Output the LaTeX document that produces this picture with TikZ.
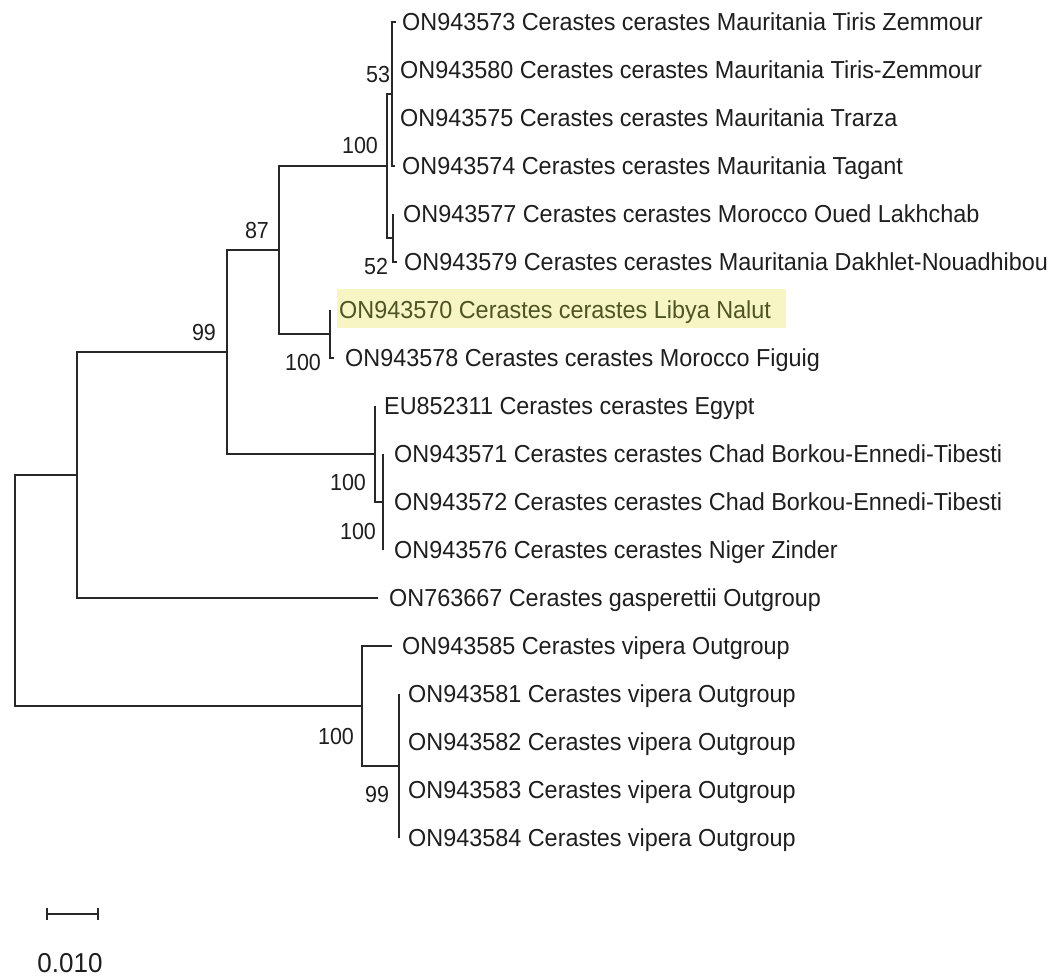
\documentclass[tikz,border=0pt]{standalone}
\usepackage{fontspec}
\setmainfont{Liberation Sans}
\definecolor{branch}{RGB}{40,40,40}
\definecolor{txt}{RGB}{30,30,30}
\definecolor{hl}{RGB}{247,245,196}
\definecolor{hltxt}{RGB}{78,84,36}
\tikzset{
  br/.style={draw=branch, line width=1.3pt},
  leaf/.style={inner sep=0pt, anchor=base west, text=txt, yscale=1.05, font=\fontsize{23.4pt}{28pt}\selectfont},
  boot/.style={inner sep=0pt, anchor=center, text=txt, yscale=1.08, font=\fontsize{21.5pt}{24pt}\selectfont},
}
\begin{document}
\begin{tikzpicture}[x=1pt,y=-1pt]
\useasboundingbox (0,0) rectangle (1052,978);
% highlight
\fill[hl] (337,289) rectangle (786,328);
% internal nodes
\coordinate (root) at (15,590.5);
\coordinate (n77) at (77,475);
\coordinate (n99) at (227,352);
\coordinate (n87) at (279,250);
\coordinate (n100a) at (387,166);
\coordinate (n53) at (392,94);
\coordinate (n52) at (393,238);
\coordinate (nlib) at (330,334);
\coordinate (negy) at (375,454);
\coordinate (nsub) at (383,502);
\coordinate (nvip) at (362,706);
\coordinate (nvsub) at (399,766);
% tips
\coordinate (t1) at (396,22);
\coordinate (t2) at (392,70);
\coordinate (t3) at (392,118);
\coordinate (t4) at (395,166);
\coordinate (t5) at (393,214);
\coordinate (t6) at (397,262);
\coordinate (t7) at (330,310);
\coordinate (t8) at (334,358);
\coordinate (t9) at (375,406);
\coordinate (t10) at (383,454);
\coordinate (t11) at (383,502);
\coordinate (t12) at (383,550);
\coordinate (t13) at (378,598);
\coordinate (t14) at (392,646);
\coordinate (t15) at (399,694);
\coordinate (t16) at (399,742);
\coordinate (t17) at (399,790);
\coordinate (t18) at (399,838);
% branches
\draw[br] (root) |- (n77);
\draw[br] (root) |- (nvip);
\draw[br] (n77) |- (n99);
\draw[br] (n77) |- (t13);
\draw[br] (n99) |- (n87);
\draw[br] (n99) |- (negy);
\draw[br] (n87) |- (n100a);
\draw[br] (n87) |- (nlib);
\draw[br] (n100a) |- (n53);
\draw[br] (n100a) |- (n52);
\draw[br] (n53) |- (t1);
\draw[br] (n53) |- (t2);
\draw[br] (n53) |- (t3);
\draw[br] (n53) |- (t4);
\draw[br] (n52) |- (t5);
\draw[br] (n52) |- (t6);
\draw[br] (nlib) |- (t7);
\draw[br] (nlib) |- (t8);
\draw[br] (negy) |- (t9);
\draw[br] (negy) |- (nsub);
\draw[br] (nsub) |- (t10);
\draw[br] (nsub) |- (t11);
\draw[br] (nsub) |- (t12);
\draw[br] (nvip) |- (t14);
\draw[br] (nvip) |- (nvsub);
\draw[br] (nvsub) |- (t15);
\draw[br] (nvsub) |- (t16);
\draw[br] (nvsub) |- (t17);
\draw[br] (nvsub) |- (t18);
% leaf labels
\node[leaf] (l1) at ([xshift=6]t1 |- 0,30.4) {ON943573 Cerastes cerastes Mauritania Tiris Zemmour};
\node[leaf] (l2) at ([xshift=8]t2 |- 0,78.4) {ON943580 Cerastes cerastes Mauritania Tiris-Zemmour};
\node[leaf] (l3) at ([xshift=8]t3 |- 0,126.4) {ON943575 Cerastes cerastes Mauritania Trarza};
\node[leaf] (l4) at ([xshift=7]t4 |- 0,174.4) {ON943574 Cerastes cerastes Mauritania Tagant};
\node[leaf] (l5) at ([xshift=10]t5 |- 0,222.4) {ON943577 Cerastes cerastes Morocco Oued Lakhchab};
\node[leaf] (l6) at ([xshift=7]t6 |- 0,270.4) {ON943579 Cerastes cerastes Mauritania Dakhlet-Nouadhibou};
\node[leaf, text=hltxt] (l7) at ([xshift=9]t7 |- 0,318.4) {ON943570 Cerastes cerastes Libya Nalut};
\node[leaf] (l8) at ([xshift=11]t8 |- 0,366.4) {ON943578 Cerastes cerastes Morocco Figuig};
\node[leaf] (l9) at ([xshift=9]t9 |- 0,414.4) {EU852311 Cerastes cerastes Egypt};
\node[leaf] (l10) at ([xshift=11]t10 |- 0,462.4) {ON943571 Cerastes cerastes Chad Borkou-Ennedi-Tibesti};
\node[leaf] (l11) at ([xshift=11]t11 |- 0,510.4) {ON943572 Cerastes cerastes Chad Borkou-Ennedi-Tibesti};
\node[leaf] (l12) at ([xshift=11]t12 |- 0,558.4) {ON943576 Cerastes cerastes Niger Zinder};
\node[leaf] (l13) at ([xshift=11]t13 |- 0,606.4) {ON763667 Cerastes gasperettii Outgroup};
\node[leaf] (l14) at ([xshift=10]t14 |- 0,654.4) {ON943585 Cerastes vipera Outgroup};
\node[leaf] (l15) at ([xshift=9]t15 |- 0,702.4) {ON943581 Cerastes vipera Outgroup};
\node[leaf] (l16) at ([xshift=9]t16 |- 0,750.4) {ON943582 Cerastes vipera Outgroup};
\node[leaf] (l17) at ([xshift=9]t17 |- 0,798.4) {ON943583 Cerastes vipera Outgroup};
\node[leaf] (l18) at ([xshift=9]t18 |- 0,846.4) {ON943584 Cerastes vipera Outgroup};
% bootstrap values
\node[boot] (b53) at (378,75) {53};
\node[boot] (b100a) at (360,146) {100};
\node[boot] (b52) at (376,266) {52};
\node[boot] (b87) at (257,230) {87};
\node[boot] (b99) at (204,332) {99};
\node[boot] (b100lib) at (303,362) {100};
\node[boot] (b100egy) at (348,482) {100};
\node[boot] (b100sub) at (358,531) {100};
\node[boot] (b100vip) at (336,736) {100};
\node[boot] (b99vip) at (377,794) {99};
% scale bar
\coordinate (s1) at (47,914);
\coordinate (s2) at (98,914);
\draw[br, line width=1.2pt] (s1) -- (s2);
\draw[br, line width=1.2pt] ([yshift=-6]s1) -- ([yshift=6]s1);
\draw[br, line width=1.2pt] ([yshift=-6]s2) -- ([yshift=6]s2);
\node[inner sep=0pt, text=txt, yscale=1.05, font=\fontsize{26pt}{30pt}\selectfont] (slab) at (70,963) {0.010};
\end{tikzpicture}
\end{document}
